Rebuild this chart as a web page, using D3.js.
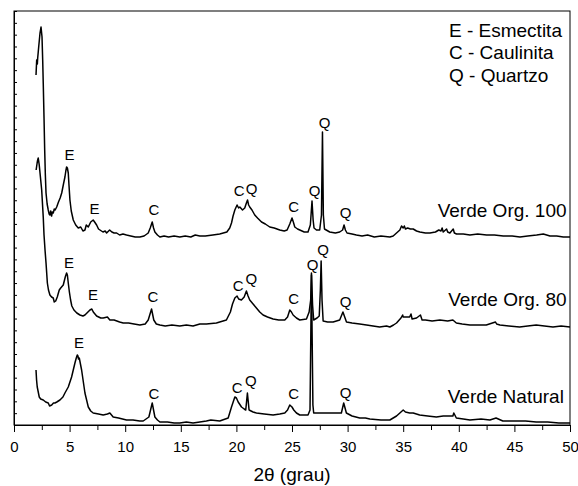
<!DOCTYPE html>
<html>
<head>
<meta charset="utf-8">
<script src="https://cdn.jsdelivr.net/npm/d3@7"></script>
<style>
  html, body { margin: 0; padding: 0; background: #fff; }
  svg { display: block; font-family: "Liberation Sans", Arial, Helvetica, sans-serif; }
</style>
</head>
<body>
<svg id="chart" width="578" height="486"></svg>
<script>
// ---- DATA (2θ in degrees, relative intensity in a.u.) ----
const xTicks = [0, 5, 10, 15, 20, 25, 30, 35, 40, 45, 50];
const xDomain = [0, 50];
const yDomain = [0, 414];
const yTickCount = 35;

const verdeOrg100 = [
  [1.98,350],[2.04,365],[2.10,361],[2.13,367],[2.18,373],[2.22,378],[2.28,385],[2.34,392],[2.43,398],
  [2.52,388],[2.58,365],[2.63,342],[2.70,307],[2.76,275],[2.82,250],[2.88,232],[2.98,221],[3.08,215],
  [3.16,211],[3.23,210],[3.30,214],[3.38,209],[3.45,213],[3.53,212],[3.62,216],[3.70,215],[3.84,218],
  [4.00,223],[4.15,227],[4.29,232],[4.45,241],[4.58,248],[4.66,254],[4.73,258],[4.80,257],[4.88,252],
  [4.95,239],[5.03,225],[5.15,214],[5.33,205],[5.55,200],[5.78,197],[6.00,198],[6.20,194],[6.38,195],
  [6.50,200],[6.68,198],[6.90,203],[7.12,205],[7.25,203],[7.43,200],[7.60,196],[7.73,195],[8.00,193],
  [8.20,194],[8.33,192],[8.60,195],[8.80,193],[9.00,192],[9.23,192],[9.50,190],[9.80,191],[10.12,190],
  [10.50,189],[10.90,188],[11.32,188],[11.70,189],[12.07,192],[12.25,197],[12.43,203],[12.55,197],
  [12.67,193],[12.90,190],[13.12,188],[13.50,189],[13.90,188],[14.40,189],[14.91,188],[15.40,189],
  [15.90,188],[16.30,190],[16.71,189],[17.20,189],[17.88,190],[18.50,191],[19.14,193],[19.40,197],
  [19.56,202],[19.70,209],[19.86,215],[20.06,220],[20.20,217],[20.31,218],[20.55,215],[20.75,217],
  [20.90,222],[21.00,225],[21.10,220],[21.20,218],[21.40,215],[21.65,210],[21.90,207],[22.26,203],
  [22.60,201],[23.00,198],[23.40,197],[23.90,195],[24.30,194],[24.56,195],[24.80,201],[25.00,207],
  [25.12,203],[25.25,198],[25.50,196],[25.70,195],[26.10,193],[26.44,193],[26.65,200],[26.80,224],
  [26.90,205],[26.98,197],[27.20,195],[27.49,195],[27.65,210],[27.74,293],[27.82,210],[27.92,196],
  [28.39,193],[28.90,192],[29.29,193],[29.55,195],[29.68,200],[29.80,195],[29.95,192],[30.40,191],
  [30.79,190],[31.30,189],[31.80,190],[32.40,188],[33.00,189],[33.80,188],[34.10,189],[34.40,192],
  [34.70,195],[34.85,199],[35.00,197],[35.10,199],[35.20,196],[35.40,197],[35.65,196],[35.90,196],
  [36.20,194],[36.50,193],[37.00,192],[37.40,192],[37.90,193],[38.20,195],[38.40,194],[38.50,197],
  [38.60,193],[38.90,196],[39.00,193],[39.20,192],[39.50,196],[39.60,192],[39.80,191],[40.40,191],
  [41.00,190],[41.70,191],[42.50,190],[43.20,190],[44.00,189],[44.80,189],[45.50,188],[46.20,189],
  [47.00,190],[47.60,191],[48.20,189],[48.80,189],[49.40,188],[50.00,188]
];

const verdeOrg80 = [
  [1.99,255],[2.08,262],[2.13,265],[2.18,267],[2.27,260],[2.34,252],[2.49,235],[2.63,208],[2.70,190],
  [2.79,175],[2.88,162],[3.00,142],[3.10,135],[3.23,130],[3.38,128],[3.53,127],[3.62,123],[3.75,124],
  [3.89,128],[4.07,135],[4.20,137],[4.43,140],[4.61,148],[4.73,152],[4.80,150],[4.88,142],[4.98,133],
  [5.09,125],[5.20,119],[5.39,115],[5.65,112],[5.93,110],[6.20,109],[6.38,110],[6.65,113],[6.83,115],
  [7.00,116],[7.13,113],[7.43,109],[7.80,107],[8.02,107],[8.40,108],[8.62,105],[9.00,105],[9.50,103],
  [9.82,102],[10.30,102],[10.80,101],[11.32,100],[11.80,101],[12.07,105],[12.37,116],[12.57,105],
  [12.80,101],[13.12,100],[13.60,99],[14.20,100],[14.91,99],[15.50,100],[16.10,99],[16.71,101],
  [17.30,101],[18.20,102],[18.80,104],[19.10,105],[19.46,113],[19.65,121],[19.86,127],[20.06,129],
  [20.20,126],[20.45,125],[20.70,128],[20.90,134],[21.05,129],[21.20,125],[21.50,121],[21.80,117],
  [22.10,113],[22.40,110],[22.80,108],[23.30,106],[23.80,105],[24.35,105],[24.60,108],[24.80,115],
  [24.95,113],[25.10,110],[25.40,107],[25.70,105],[26.30,106],[26.54,113],[26.68,125],[26.75,152],
  [26.85,120],[26.95,105],[27.25,107],[27.45,109],[27.55,135],[27.62,164],[27.70,125],[27.80,104],
  [28.20,103],[28.70,103],[29.29,105],[29.58,113],[29.90,103],[30.40,102],[31.09,101],[31.70,100],
  [32.88,98],[33.50,99],[33.80,98],[34.13,100],[34.40,102],[34.80,107],[34.95,110],[35.00,108],
  [35.30,108],[35.58,108],[35.70,111],[35.80,106],[36.20,107],[36.55,110],[36.70,105],[37.00,105],
  [37.60,104],[38.30,105],[39.00,104],[39.47,105],[39.78,102],[40.30,101],[41.00,100],[41.80,100],
  [42.47,100],[43.30,103],[43.40,101],[43.70,100],[44.50,99],[45.47,98],[46.20,99],[46.96,100],
  [47.70,99],[48.47,98],[49.20,99],[50.00,98]
];

const verdeNatural = [
  [1.98,55],[2.03,45],[2.09,38],[2.27,28],[2.40,26],[2.63,25],[2.85,23],[3.08,22],[3.20,19],[3.39,20],
  [3.55,22],[3.68,22],[3.85,23],[4.13,25],[4.40,28],[4.58,32],[4.88,38],[5.18,48],[5.48,62],[5.60,67],
  [5.69,70],[5.75,69],[5.80,66],[5.87,67],[6.08,55],[6.38,32],[6.68,18],[6.90,14],[7.12,12],[7.60,11],
  [8.02,10],[8.40,11],[8.62,12],[8.92,8],[9.40,7],[10.12,5],[10.70,5],[11.30,4],[11.62,4],[12.13,8],
  [12.43,22],[12.67,8],[12.90,5],[13.12,3],[13.80,3],[14.40,2],[14.91,2],[15.50,3],[16.10,2],[16.71,3],
  [17.30,4],[17.70,5],[18.50,4],[19.26,7],[19.56,18],[19.86,28],[20.00,27],[20.16,23],[20.46,18],
  [20.70,16],[20.84,15],[20.99,32],[21.14,15],[21.50,13],[21.80,12],[22.50,11],[23.30,10],[23.90,11],
  [24.35,12],[24.60,15],[24.80,20],[25.00,18],[25.16,15],[25.40,12],[25.70,10],[26.44,10],[26.62,15],
  [26.75,150],[26.88,20],[26.95,12],[27.49,12],[28.70,12],[29.44,12],[29.65,22],[29.89,12],[30.40,9],
  [31.09,7],[31.60,7],[32.00,6],[33.00,5],[33.80,5],[34.40,9],[34.80,13],[35.00,15],[35.20,13],
  [35.58,12],[35.90,12],[36.48,10],[37.20,9],[37.98,8],[38.60,9],[39.47,9],[39.55,12],[39.78,7],
  [40.40,6],[41.00,5],[42.00,6],[42.80,5],[43.35,7],[43.96,4],[45.00,4],[46.00,4],[46.96,3],[48.00,3],
  [49.00,2],[50.00,2]
];

const seriesNames = ["Verde Org. 100", "Verde Org. 80", "Verde Natural"];
const seriesLabelPos = [[49.69, 207.7], [49.69, 119.3], [49.45, 21.7]];

const peakLabels = [
  // Verde Org. 100
  ["E",4.99,265],["E",7.23,211],["C",12.58,210],["C",20.24,229],["Q",21.36,231],
  ["C",25.16,213.5],["Q",27.04,229.5],["Q",27.94,297.5],["Q",29.83,207],
  // Verde Org. 80
  ["E",4.94,157],["E",7.10,125],["C",12.49,123.5],["C",20.15,134.5],["Q",21.34,141],
  ["C",25.16,121],["Q",26.86,155],["Q",27.79,170],["Q",29.83,118],
  // Verde Natural
  ["E",5.84,77.5],["C",12.58,26.5],["C",20.08,32.5],["Q",21.29,39.5],["C",25.16,25.7],["Q",29.83,27.5]
];

const legendLines = ["E - Esmectita", "C - Caulinita", "Q - Quartzo"];
const xTitle = "2\u03B8 (grau)";

// ---- DRAWING ----
const svg = d3.select("#chart");
const padL = 14, padR = 570, padT = 11, padB = 425;

const x = d3.scaleLinear().domain(xDomain).range([padL, padR]);
const y = d3.scaleLinear().domain(yDomain).range([padB, padT]);

// frame
svg.append("rect")
  .attr("x", padL).attr("y", padT)
  .attr("width", padR - padL).attr("height", padB - padT)
  .attr("fill", "none").attr("stroke", "#000").attr("stroke-width", 1);

// x axis major
const xAxis = d3.axisBottom(x).tickValues(xTicks).tickSize(7).tickPadding(9)
  .tickFormat(d3.format("d"));
const gx = svg.append("g").attr("transform", `translate(0,${padB})`).call(xAxis);
gx.select(".domain").attr("stroke", "#000");
gx.selectAll(".tick line").attr("stroke", "#000");
gx.selectAll(".tick text").attr("font-size", 15).attr("fill", "#000")
  .attr("font-family", '"Liberation Sans", Arial, sans-serif');

// x axis minor
const xMinor = d3.axisBottom(x).tickValues(d3.range(2.5, 50, 5)).tickSize(5).tickFormat("");
const gxm = svg.append("g").attr("transform", `translate(0,${padB})`).call(xMinor);
gxm.select(".domain").remove();
gxm.selectAll(".tick line").attr("stroke", "#000");

// y axis (ticks inward, no labels)
const yTickVals = d3.range(0, yTickCount + 1).map(i => i * (yDomain[1] / yTickCount));
const yAxis = d3.axisLeft(y).tickValues(yTickVals).tickSize(-3).tickFormat("");
const gy = svg.append("g").attr("transform", `translate(${padL},0)`).call(yAxis);
gy.select(".domain").attr("stroke", "#000");
gy.selectAll(".tick line").attr("stroke", "#000");

// traces
const line = d3.line().x(d => x(d[0])).y(d => y(d[1]));
[verdeOrg100, verdeOrg80, verdeNatural].forEach(s => {
  svg.append("path").datum(s)
    .attr("d", line)
    .attr("fill", "none")
    .attr("stroke", "#000")
    .attr("stroke-width", 1.5)
    .attr("stroke-linejoin", "round");
});

// peak labels
svg.append("g").selectAll("text").data(peakLabels).join("text")
  .attr("x", d => x(d[1])).attr("y", d => y(d[2]))
  .attr("text-anchor", "middle")
  .attr("font-size", 15)
  .attr("fill", "#000")
  .text(d => d[0]);

// series labels
svg.append("g").selectAll("text").data(seriesNames).join("text")
  .attr("x", (d, i) => x(seriesLabelPos[i][0]))
  .attr("y", (d, i) => y(seriesLabelPos[i][1]))
  .attr("text-anchor", "end")
  .attr("font-size", 19)
  .attr("fill", "#000")
  .text(d => d);

// legend
svg.append("g").selectAll("text").data(legendLines).join("text")
  .attr("x", 449)
  .attr("y", (d, i) => 37 + i * 22.3)
  .attr("font-size", 19)
  .attr("fill", "#000")
  .text(d => d);

// x title
svg.append("text")
  .attr("x", (padL + padR) / 2)
  .attr("y", 481)
  .attr("text-anchor", "middle")
  .attr("font-size", 19)
  .attr("fill", "#000")
  .text(xTitle);
</script>
</body>
</html>
